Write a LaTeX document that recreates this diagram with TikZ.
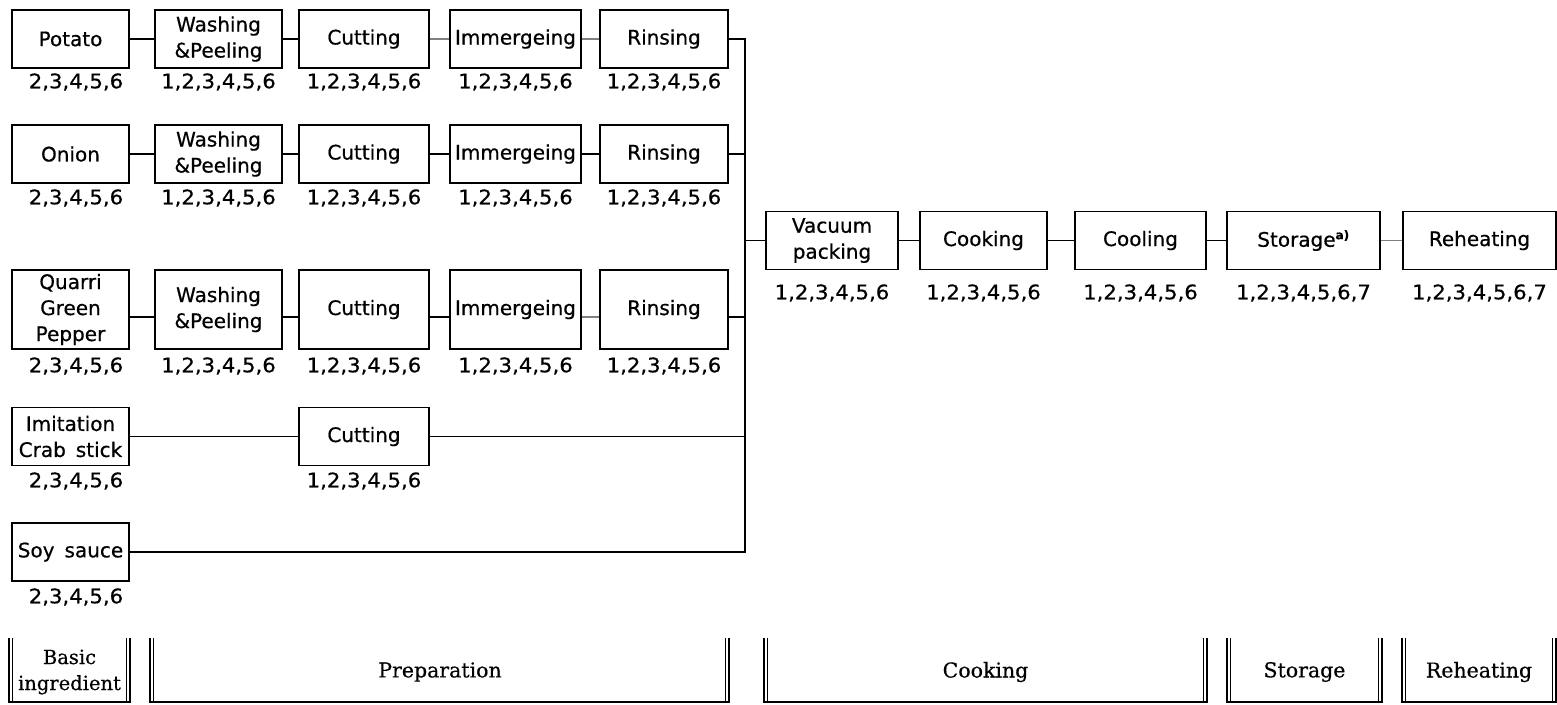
\documentclass[tikz,border=0pt]{standalone}
\usepackage{fontspec}
\setmainfont{DejaVu Sans}[FakeBold=0.6]
\newfontfamily\secfont{DejaVu Serif}[FakeBold=0.5]
\newcommand\sx[1]{\scalebox{1.06}[1]{#1}}
\tikzset{
  box/.style={draw, line width=1.4pt, inner sep=0pt, align=center, font=\fontsize{20}{26}\selectfont},
  lbl/.style={inner sep=0pt, font=\fontsize{20}{22}\selectfont},
  blk/.style={line width=1.7pt},
  gry/.style={line width=1.1pt, draw=black!50},
  sec/.style={line width=1.2pt},
  sectext/.style={inner sep=0pt, font=\secfont\fontsize{20.5}{27}\selectfont, align=center},
  w117/.style={minimum width=117pt},
  w127/.style={minimum width=127pt},
  w130/.style={minimum width=130pt},
  w131/.style={minimum width=131pt},
  w128/.style={minimum width=128pt},
  h58/.style={minimum height=58pt},
  h79/.style={minimum height=79pt}
}
\begin{document}
\begin{tikzpicture}[x=1pt,y=-1pt]
\useasboundingbox (0,0) rectangle (1557,704);
% Row 1
\node[box,w117,h58] (p1) at (70.5,39) {Potato};
\node[box,w127,h58] (w1) at (218.5,39) {Washing\\\&Peeling};
\node[box,w130,h58] (c1) at (364,39) {Cutting};
\node[box,w131,h58] (i1) at (515.5,39) {Immergeing};
\node[box,w128,h58] (r1) at (664,39) {Rinsing};
\node[lbl] (p1n) at (76,82) {\sx{2,3,4,5,6}};
\node[lbl] (w1n) at (218.5,82) {\sx{1,2,3,4,5,6}};
\node[lbl] (c1n) at (364,82) {\sx{1,2,3,4,5,6}};
\node[lbl] (i1n) at (515.5,82) {\sx{1,2,3,4,5,6}};
\node[lbl] (r1n) at (664,82) {\sx{1,2,3,4,5,6}};
% Row 2
\node[box,w117,h58] (p2) at (70.5,154) {Onion};
\node[box,w127,h58] (w2) at (218.5,154) {Washing\\\&Peeling};
\node[box,w130,h58] (c2) at (364,154) {Cutting};
\node[box,w131,h58] (i2) at (515.5,154) {Immergeing};
\node[box,w128,h58] (r2) at (664,154) {Rinsing};
\node[lbl] (p2n) at (76,198) {\sx{2,3,4,5,6}};
\node[lbl] (w2n) at (218.5,198) {\sx{1,2,3,4,5,6}};
\node[lbl] (c2n) at (364,198) {\sx{1,2,3,4,5,6}};
\node[lbl] (i2n) at (515.5,198) {\sx{1,2,3,4,5,6}};
\node[lbl] (r2n) at (664,198) {\sx{1,2,3,4,5,6}};
% Row 3
\node[box,w117,h79] (p3) at (70.5,309.5) {Quarri\\Green\\Pepper};
\node[box,w127,h79] (w3) at (218.5,309.5) {Washing\\\&Peeling};
\node[box,w130,h79] (c3) at (364,309.5) {Cutting};
\node[box,w131,h79] (i3) at (515.5,309.5) {Immergeing};
\node[box,w128,h79] (r3) at (664,309.5) {Rinsing};
\node[lbl] (p3n) at (76,366) {\sx{2,3,4,5,6}};
\node[lbl] (w3n) at (218.5,366) {\sx{1,2,3,4,5,6}};
\node[lbl] (c3n) at (364,366) {\sx{1,2,3,4,5,6}};
\node[lbl] (i3n) at (515.5,366) {\sx{1,2,3,4,5,6}};
\node[lbl] (r3n) at (664,366) {\sx{1,2,3,4,5,6}};
% Row 4
\node[box,w117,h58] (p4) at (70.5,436.5) {Imitation\\Crab\enspace stick};
\node[box,w130,h58] (c4) at (364,436.5) {Cutting};
\node[lbl] (p4n) at (76,481) {\sx{2,3,4,5,6}};
\node[lbl] (c4n) at (364,481) {\sx{1,2,3,4,5,6}};
% Row 5
\node[box,w117,h58] (p5) at (70.5,552) {Soy\enspace sauce};
\node[lbl] (p5n) at (76,597) {\sx{2,3,4,5,6}};
% Cooking row
\node[box,minimum width=132pt,h58] (vac) at (832,240.5) {Vacuum\\packing};
\node[box,w127,h58] (cook) at (983.5,240.5) {Cooking};
\node[box,w131,h58] (cool) at (1140.5,240.5) {Cooling};
\node[box,minimum width=153pt,h58] (stor) at (1303.5,240.5) {Storage\textsuperscript{\fontsize{12}{12}\selectfont\bfseries a)}};
\node[box,minimum width=153pt,h58] (reh) at (1479.5,240.5) {Reheating};
\node[lbl] (vacn) at (832,293) {\sx{1,2,3,4,5,6}};
\node[lbl] (cookn) at (983.5,293) {\sx{1,2,3,4,5,6}};
\node[lbl] (cooln) at (1140.5,293) {\sx{1,2,3,4,5,6}};
\node[lbl] (storn) at (1303.5,293) {\sx{1,2,3,4,5,6,7}};
\node[lbl] (rehn) at (1479.5,293) {\sx{1,2,3,4,5,6,7}};
% connectors row 1
\draw[blk] (p1) -- (w1);
\draw[blk] (w1) -- (c1);
\draw[gry] (c1) -- (i1);
\draw[gry] (i1) -- (r1);
% row 2
\draw[blk] (p2) -- (w2);
\draw[blk] (w2) -- (c2);
\draw[blk] (c2) -- (i2);
\draw[blk] (i2) -- (r2);
% row 3
\draw[blk] ([yshift=-7.5pt]p3.east) -- ([yshift=-7.5pt]w3.west);
\draw[blk] ([yshift=-7.5pt]w3.east) -- ([yshift=-7.5pt]c3.west);
\draw[blk] ([yshift=-7.5pt]c3.east) -- ([yshift=-7.5pt]i3.west);
\draw[gry] ([yshift=-7.5pt]i3.east) -- ([yshift=-7.5pt]r3.west);
% row 4
\draw[blk] (p4) -- (c4);
% trunk
\coordinate (tt) at (745,39);
\coordinate (tb) at (745,552);
\draw[blk] (r1.east) -- (tt) -- (tb) -- (p5.east);
\draw[blk] (r2.east) -- (r2.east -| tt);
\draw[blk] ([yshift=-7.5pt]r3.east) -- ([yshift=-7.5pt]r3.east -| tt);
\draw[blk] (c4.east) -- (c4.east -| tt);
\draw[blk] (vac.west -| tt) -- (vac.west);
% cooking row connectors
\draw[blk] (vac) -- (cook);
\draw[blk] (cook) -- (cool);
\draw[blk] (cool) -- (stor);
\draw[gry] (stor) -- (reh);
% bottom sections
\foreach \xl/\xr in {9/130, 150/729, 764/1207, 1227/1382, 1402/1556}{
  \draw[sec] (\xl,638) -- (\xl,702) -- (\xr,702) -- (\xr,638);
  \draw[sec] (\xl+3.5,638) -- (\xl+3.5,702);
  \draw[sec] (\xr-3.5,638) -- (\xr-3.5,702);
}
\node[sectext, font=\secfont\fontsize{19.5}{26}\selectfont] (s1) at (69.5,672) {Basic\\ingredient};
\node[sectext] (s2) at (440,672) {Preparation};
\node[sectext] (s3) at (985.5,672) {Cooking};
\node[sectext] (s4) at (1304.5,672) {Storage};
\node[sectext] (s5) at (1479,672) {Reheating};
\end{tikzpicture}
\end{document}
